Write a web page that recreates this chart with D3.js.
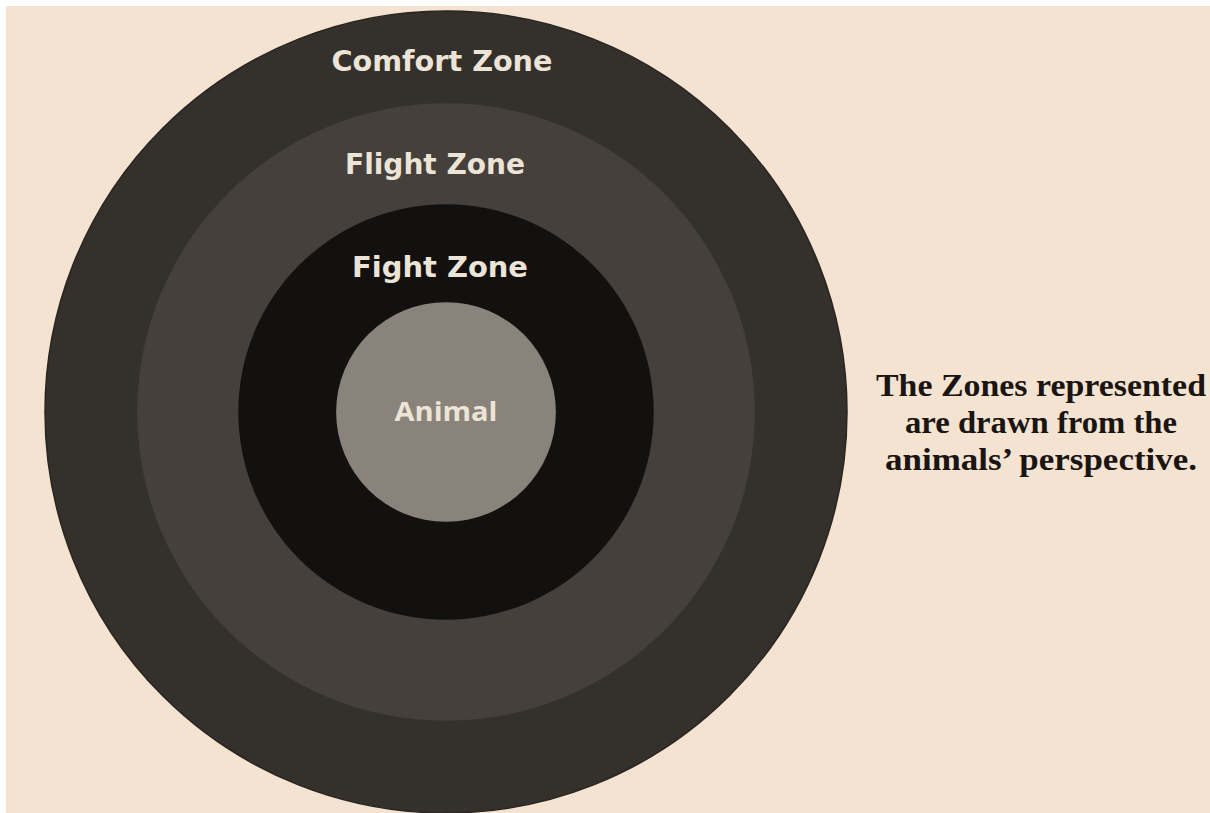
<!DOCTYPE html>
<html>
<head>
<meta charset="utf-8">
<script src="https://cdn.jsdelivr.net/npm/d3@7"></script>
<style>
  html, body { margin: 0; padding: 0; background: #fff; }
  svg { display: block; }
</style>
</head>
<body>
<div id="root"></div>
<script>
const width = 1210;
const height = 813;

// zones from outside in, with their reach (relative units, outer = 100)
const zones = ["Comfort Zone", "Flight Zone", "Fight Zone", "Animal"];
const reach = [100, 77, 51.8, 27.4];
const note = ["The Zones represented", "are drawn from the", "animals\u2019 perspective."];

const fills = ["#34302b", "#45403b", "#131110", "#8a837b"];
const labelWidth = [221, 180, 176, 103];
const labelDy = [14, 20, 24, 9];
const labelDx = [-4, -11, -6, 0];
const noteWidth = [330, 272, 312];

const cx = 446;
const cy = 412;

const r = d3.scaleLinear().domain([0, 100]).range([0, 401]);

const svg = d3
  .select("#root")
  .append("svg")
  .attr("width", width)
  .attr("height", height);

svg
  .append("rect")
  .attr("x", 6)
  .attr("y", 6)
  .attr("width", width - 6)
  .attr("height", height - 6)
  .attr("fill", "#f3e3d0");

const rings = svg.append("g").attr("transform", `translate(${cx}, ${cy})`);

rings
  .selectAll("circle")
  .data(reach)
  .join("circle")
  .attr("r", (d) => r(d))
  .attr("fill", (d, i) => fills[i])
  .attr("stroke", (d, i) => (i === 0 ? "#2a2520" : "none"))
  .attr("stroke-width", 1.5);

// label sits in the middle of its band (center for the animal)
rings
  .selectAll("text")
  .data(zones)
  .join("text")
  .attr("x", (d, i) => labelDx[i])
  .attr("y", (d, i) => {
    const mid = i < reach.length - 1 ? -(r(reach[i]) + r(reach[i + 1])) / 2 : 0;
    return mid + labelDy[i];
  })
  .attr("text-anchor", "middle")
  .attr("fill", "#ece4d6")
  .attr("font-family", (d, i) =>
    i === 3 ? "'Open Sans', Lato, sans-serif" : "'Comic Sans MS', 'DejaVu Sans', sans-serif"
  )
  .attr("font-weight", "bold")
  .attr("font-size", (d, i) => (i === 3 ? 27 : 28))
  .attr("textLength", (d, i) => labelWidth[i])
  .attr("lengthAdjust", "spacingAndGlyphs")
  .text((d) => d);

svg
  .append("g")
  .selectAll("text")
  .data(note)
  .join("text")
  .attr("x", 1041)
  .attr("y", (d, i) => 396 + i * 37)
  .attr("text-anchor", "middle")
  .attr("fill", "#1a1512")
  .attr("font-family", "'Liberation Serif', 'Times New Roman', Times, serif")
  .attr("font-weight", "bold")
  .attr("font-size", 31)
  .attr("textLength", (d, i) => noteWidth[i])
  .attr("lengthAdjust", "spacingAndGlyphs")
  .text((d) => d);
</script>
</body>
</html>
